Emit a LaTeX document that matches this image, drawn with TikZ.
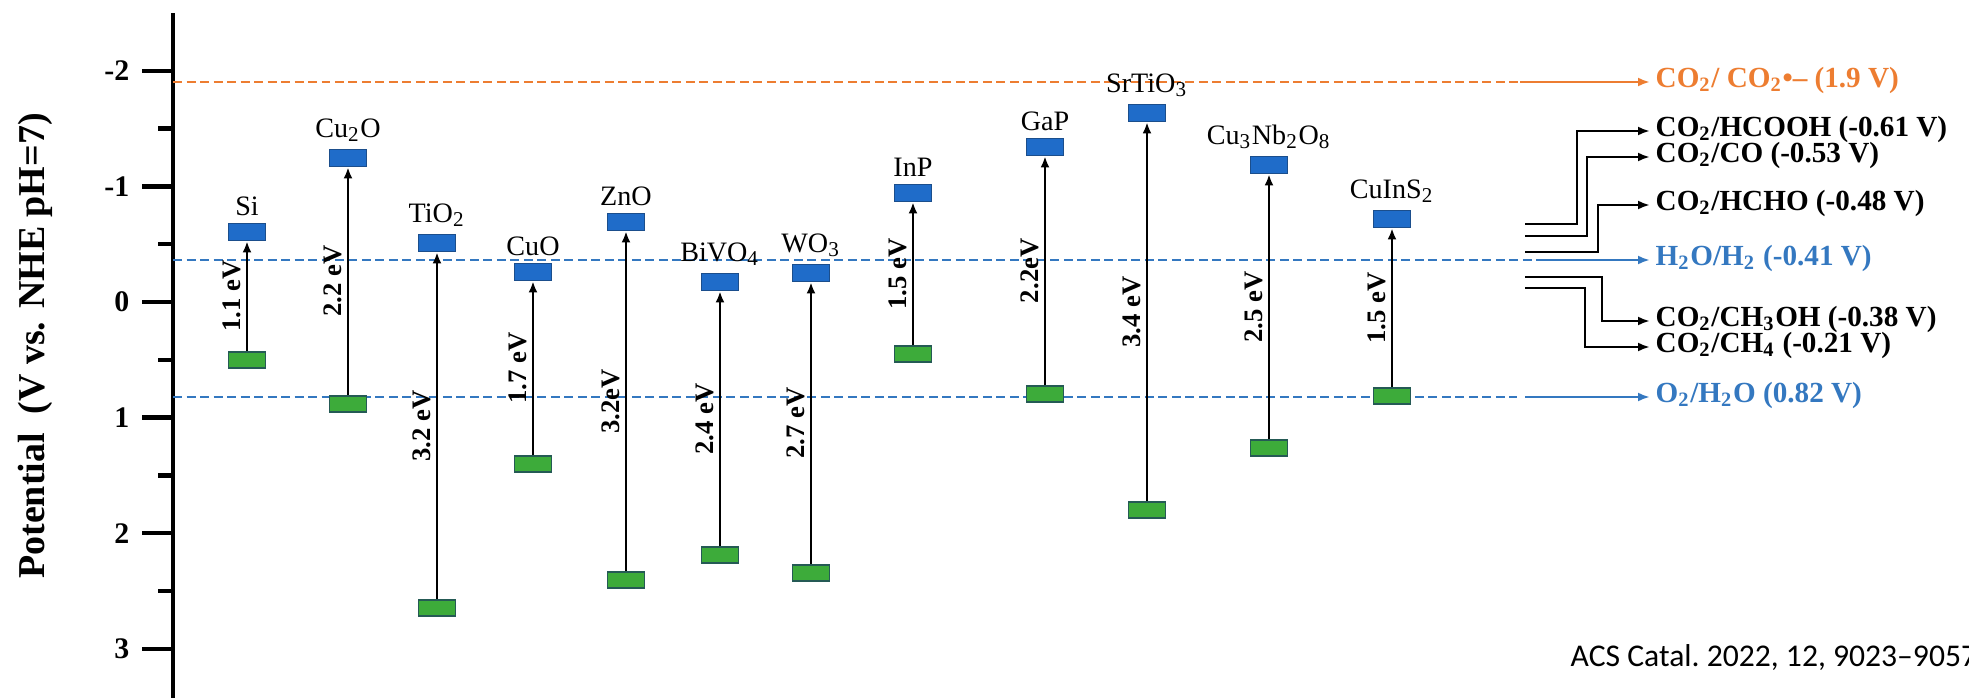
\documentclass[tikz,border=0pt]{standalone}
\usepackage{fontspec}
\setmainfont{Liberation Serif}
\newfontfamily\citefont{Carlito}
\usetikzlibrary{arrows.meta,positioning}
\definecolor{rxorange}{HTML}{ED7D31}
\definecolor{rxblue}{HTML}{3478C0}
\definecolor{cbfill}{HTML}{1F6CC9}
\definecolor{cbedge}{HTML}{1B4E8C}
\definecolor{vbfill}{HTML}{3DAB3A}
\definecolor{vbedge}{HTML}{255A55}
\newcommand{\chsub}[1]{\textsubscript{#1}}

\begin{document}
\begin{tikzpicture}[x=0.1mm,y=-0.1mm,
 axisln/.style={line width=1.2pt},
 cb/.style={draw=cbedge,fill=cbfill,line width=0.5pt,minimum width=3.7mm,minimum height=1.7mm,inner sep=0pt},
 vb/.style={draw=vbedge,fill=vbfill,line width=0.5pt,minimum width=3.7mm,minimum height=1.6mm,inner sep=0pt},
 mat/.style={font=\fontsize{8}{9}\selectfont,inner sep=0.3mm},
 gap/.style={-{Latex[length=1.1mm,width=0.9mm]},line width=0.7pt},
 gaplbl/.style={font=\bfseries\fontsize{7.6}{9}\selectfont,rotate=90,anchor=south,inner sep=0.5mm},
 ticklbl/.style={font=\bfseries\fontsize{8.5}{10}\selectfont,anchor=east,inner sep=0pt},
 rlbl/.style={font=\bfseries\fontsize{8.3}{10}\selectfont,anchor=west,inner xsep=0.5mm,inner ysep=0pt,
   text height=1.6mm,text depth=0.45mm},
 odash/.style={draw=rxorange,line width=0.6pt,dash pattern=on 0.9mm off 0.45mm},
 bdash/.style={draw=rxblue,line width=0.6pt,dash pattern=on 0.9mm off 0.45mm},
 oarr/.style={-{Latex[length=1.2mm,width=0.9mm]},draw=rxorange,line width=0.7pt},
 barr/.style={-{Latex[length=1.2mm,width=0.9mm]},draw=rxblue,line width=0.7pt},
 brk/.style={-{Latex[length=1.2mm,width=0.9mm]},line width=0.8pt}]
\useasboundingbox (0,0) rectangle (1969,698);
% axis
\draw[axisln] (173,13) -- (173,698);
\foreach \v in {-2,...,3} {\draw[axisln] (142,{302+115.6*\v}) -- (173,{302+115.6*\v});
  \node[ticklbl] (t\v) at (130,{302+115.6*\v}) {\v};}
\foreach \v in {-1.5,-0.5,0.5,1.5,2.5} \draw[axisln] (158,{302+115.6*\v}) -- (173,{302+115.6*\v});
\node[font=\bfseries\fontsize{10.8}{12}\selectfont,rotate=90] (ylab) at (35,346) {Potential~~(V vs. NHE pH=7)};
% redox levels
\node[rlbl,text=rxorange] (rad) at (1650,82) {CO\chsub{2}/ CO\chsub{2}\textbullet-- (1.9 V)};
\coordinate (rad-a) at (173,82); \coordinate (rad-b) at (1520,82);
\draw[odash] (rad-a) -- (rad-b);
\draw[oarr] (rad-b) -- (rad);
\node[rlbl,text=rxblue] (h2) at (1650,260) {H\chsub{2}O/H\chsub{2} (-0.41 V)};
\coordinate (h2-a) at (173,260); \coordinate (h2-b) at (1540,260);
\draw[bdash] (h2-a) -- (h2-b);
\draw[barr] (h2-b) -- (h2);
\node[rlbl,text=rxblue] (o2) at (1650,397) {O\chsub{2}/H\chsub{2}O (0.82 V)};
\coordinate (o2-a) at (173,397); \coordinate (o2-b) at (1517,397); \coordinate (o2-c) at (1525,397);
\draw[bdash] (o2-a) -- (o2-b);
\draw[barr] (o2-c) -- (o2);
% CO2 reduction products
\node[rlbl] (hcooh) at (1650,131) {CO\chsub{2}/HCOOH (-0.61 V)};
\node[rlbl] (co) at (1650,157) {CO\chsub{2}/CO (-0.53 V)};
\node[rlbl] (hcho) at (1650,205) {CO\chsub{2}/HCHO (-0.48 V)};
\node[rlbl] (ch3oh) at (1650,321) {CO\chsub{2}/CH\chsub{3}OH (-0.38 V)};
\node[rlbl] (ch4) at (1650,347) {CO\chsub{2}/CH\chsub{4} (-0.21 V)};
\coordinate (hcooh-s) at (1525,224);
\coordinate (co-s) at (1525,236);
\coordinate (hcho-s) at (1525,252);
\coordinate (ch3oh-s) at (1525,277);
\coordinate (ch4-s) at (1525,288);
\draw[brk] (hcooh-s) -- ++(52,0) |- (hcooh);
\draw[brk] (co-s) -- ++(62,0) |- (co);
\draw[brk] (hcho-s) -- ++(73,0) |- (hcho);
\draw[brk] (ch3oh-s) -- ++(77,0) |- (ch3oh);
\draw[brk] (ch4-s) -- ++(60,0) |- (ch4);
% semiconductors
\node[cb] (si-cb) at (247,232) {};
\node[vb] (si-vb) at (247,360) {};
\node[mat,above=0.3mm of si-cb] (si) {Si};
\draw[gap] (si-vb) -- node[gaplbl] (si-eg) {1.1 eV} (si-cb);
\node[cb] (cu2o-cb) at (348,158) {};
\node[vb] (cu2o-vb) at (348,404) {};
\node[mat,above=0.3mm of cu2o-cb] (cu2o) {Cu\chsub{2}O};
\draw[gap] (cu2o-vb) -- node[gaplbl] (cu2o-eg) {2.2 eV} (cu2o-cb);
\node[cb] (tio2-cb) at (437,243) {};
\node[vb] (tio2-vb) at (437,608) {};
\node[mat,above=0.3mm of tio2-cb] (tio2) {TiO\chsub{2}};
\draw[gap] (tio2-vb) -- node[gaplbl] (tio2-eg) {3.2 eV} (tio2-cb);
\node[cb] (cuo-cb) at (533,272) {};
\node[vb] (cuo-vb) at (533,464) {};
\node[mat,above=0.3mm of cuo-cb] (cuo) {CuO};
\draw[gap] (cuo-vb) -- node[gaplbl] (cuo-eg) {1.7 eV} (cuo-cb);
\node[cb] (zno-cb) at (626,222) {};
\node[vb] (zno-vb) at (626,580) {};
\node[mat,above=0.3mm of zno-cb] (zno) {ZnO};
\draw[gap] (zno-vb) -- node[gaplbl] (zno-eg) {3.2eV} (zno-cb);
\node[cb] (bivo4-cb) at (720,282) {};
\node[vb] (bivo4-vb) at (720,555) {};
\node[mat,above=0.3mm of bivo4-cb] (bivo4) {BiVO\chsub{4}};
\draw[gap] (bivo4-vb) -- node[gaplbl] (bivo4-eg) {2.4 eV} (bivo4-cb);
\node[cb] (wo3-cb) at (811,273) {};
\node[vb] (wo3-vb) at (811,573) {};
\node[mat,above=0.3mm of wo3-cb] (wo3) {WO\chsub{3}};
\draw[gap] (wo3-vb) -- node[gaplbl] (wo3-eg) {2.7 eV} (wo3-cb);
\node[cb] (inp-cb) at (913,193) {};
\node[vb] (inp-vb) at (913,354) {};
\node[mat,above=0.3mm of inp-cb] (inp) {InP};
\draw[gap] (inp-vb) -- node[gaplbl] (inp-eg) {1.5 eV} (inp-cb);
\node[cb] (gap-cb) at (1045,147) {};
\node[vb] (gap-vb) at (1045,394) {};
\node[mat,above=0.3mm of gap-cb] (gap) {GaP};
\draw[gap] (gap-vb) -- node[gaplbl] (gap-eg) {2.2eV} (gap-cb);
\node[cb] (srtio3-cb) at (1147,113) {};
\node[vb] (srtio3-vb) at (1147,510) {};
\node[mat,above=0.3mm of srtio3-cb] (srtio3) {SrTiO\chsub{3}};
\draw[gap] (srtio3-vb) -- node[gaplbl] (srtio3-eg) {3.4 eV} (srtio3-cb);
\node[cb] (cnbo-cb) at (1269,165) {};
\node[vb] (cnbo-vb) at (1269,448) {};
\node[mat,above=0.3mm of cnbo-cb] (cnbo) {Cu\chsub{3}Nb\chsub{2}O\chsub{8}};
\draw[gap] (cnbo-vb) -- node[gaplbl] (cnbo-eg) {2.5 eV} (cnbo-cb);
\node[cb] (cuins2-cb) at (1392,219) {};
\node[vb] (cuins2-vb) at (1392,396) {};
\node[mat,above=0.3mm of cuins2-cb] (cuins2) {CuInS\chsub{2}};
\draw[gap] (cuins2-vb) -- node[gaplbl] (cuins2-eg) {1.5 eV} (cuins2-cb);
% source
\node[font=\citefont\fontsize{9}{11}\selectfont,anchor=base west,inner sep=0pt] (cite) at (1570,666) {ACS Catal.\ 2022, 12, 9023–9057};
\end{tikzpicture}
\end{document}
